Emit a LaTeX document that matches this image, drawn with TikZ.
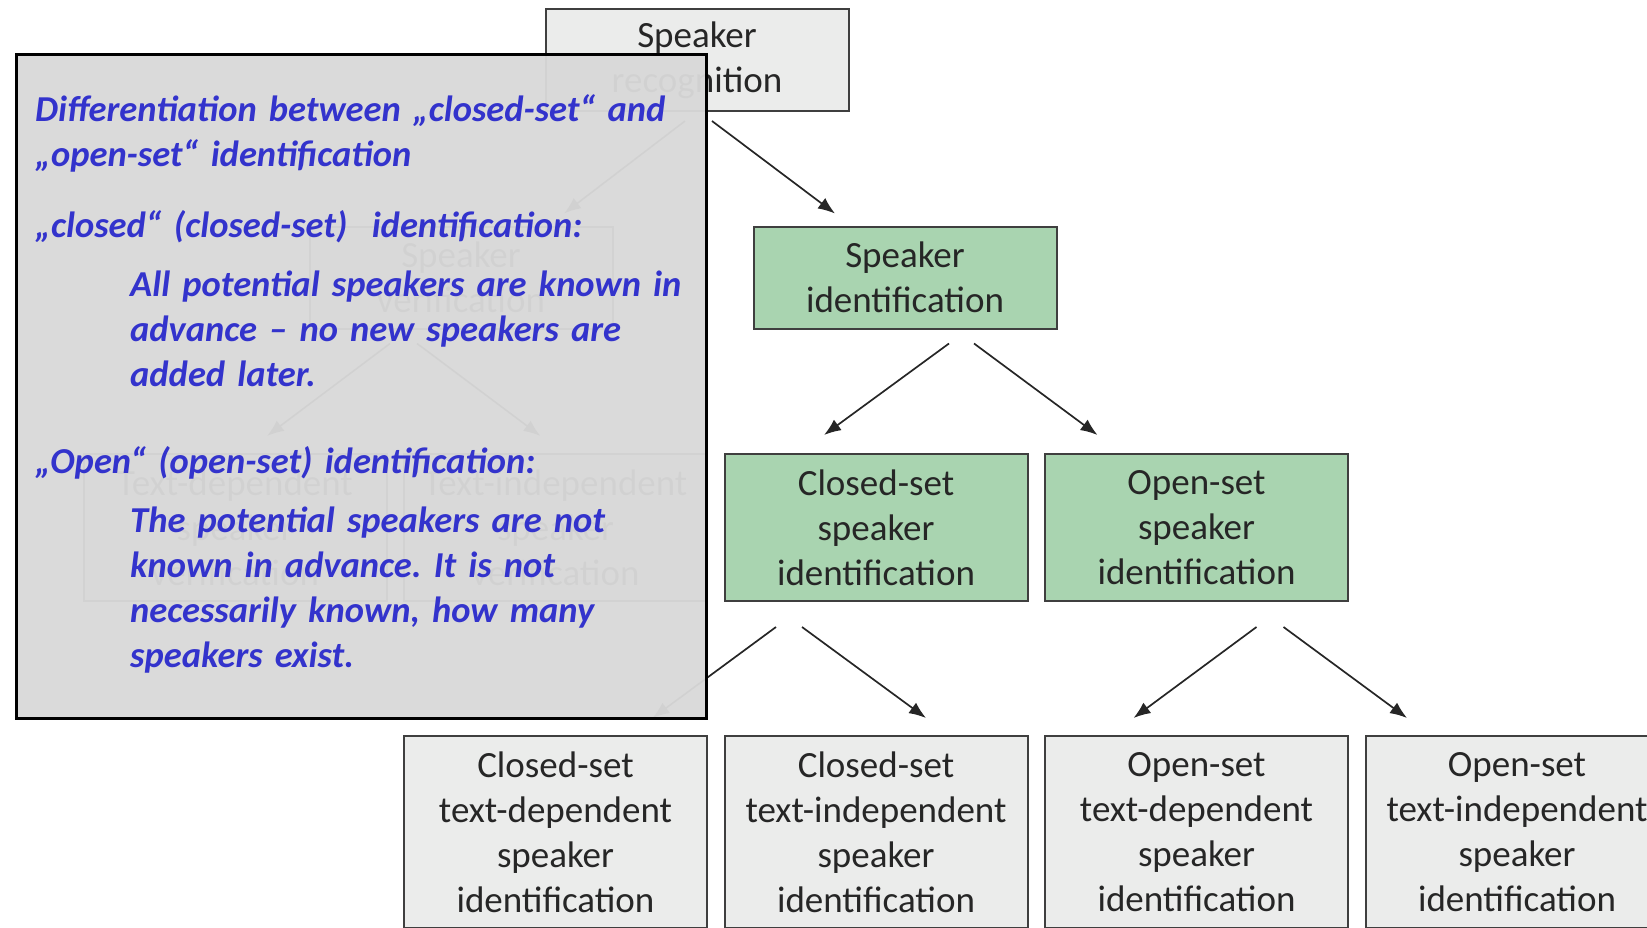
\documentclass[tikz,border=0pt]{standalone}
\usepackage{fontspec}
\setmainfont{Carlito}
\usepackage{xcolor}
\usepackage{tikz}
\usetikzlibrary{arrows.meta,positioning}
\frenchspacing

\definecolor{boxgray}{HTML}{EBECEB}
\definecolor{boxline}{HTML}{3F3F3F}
\definecolor{idgreen}{HTML}{A9D4B0}
\definecolor{notegray}{HTML}{D9D9D9}
\definecolor{noteblue}{HTML}{3333CC}
\definecolor{inkdark}{HTML}{262626}

\tikzset{
  box/.style={draw=boxline, line width=2pt, fill=boxgray, minimum width=303pt, minimum height=102pt,
    align=center, inner sep=0pt, text=inkdark, font=\fontsize{37}{45}\selectfont},
  idbox/.style={box, fill=idgreen},
  tall/.style={minimum height=147pt},
  leaf/.style={minimum height=192pt},
  arr/.style={draw=inkdark, line width=1.7pt, -{Latex[length=17pt,width=13pt]}},
  notetext/.style={anchor=base west, inner sep=0pt, text width=660pt, align=left, text=noteblue,
    font=\fontsize{36.5}{45}\selectfont\bfseries\itshape}
}

\begin{document}
\begin{tikzpicture}[x=1pt, y=-1pt]
\useasboundingbox (0,0) rectangle (1647,927);

\node [box] (rec) at (697,60) {Speaker\\recognition};
\node [box] (ver) at (461,277.5) {Speaker\\verification};
\node [idbox, right=139pt of ver] (ident) {Speaker\\identification};
\node [box, tall] (tdv) at (235,527.5) {Text-dependent\\speaker\\verification};
\node [box, tall, right=15.5pt of tdv] (tiv) {Text-independent\\speaker\\verification};
\node [idbox, tall, right=15.5pt of tiv] (csi) {Closed-set\\speaker\\identification};
\node [idbox, tall, right=15.5pt of csi] (osi) {Open-set\\speaker\\identification};
\node [box, leaf, below=133pt of tiv] (cstd) {Closed-set\\text-dependent\\speaker\\identification};
\node [box, leaf, right=15.5pt of cstd] (csti) {Closed-set\\text-independent\\speaker\\identification};
\node [box, leaf, right=15.5pt of csti] (ostd) {Open-set\\text-dependent\\speaker\\identification};
\node [box, leaf, right=15.5pt of ostd] (osti) {Open-set\\text-independent\\speaker\\identification};

\draw [arr] ([xshift=15pt,yshift=-9pt]rec.south) -- ([xshift=-70pt,yshift=12pt]ident.north);
\draw [arr] ([xshift=-12pt,yshift=-9pt]rec.south) -- ([xshift=103pt,yshift=12pt]ver.north);
\draw [arr] ([xshift=44pt,yshift=-14pt]ident.south) -- ([xshift=-52pt,yshift=18pt]csi.north);
\draw [arr] ([xshift=69pt,yshift=-14pt]ident.south) -- ([xshift=-99pt,yshift=18pt]osi.north);
\draw [arr] ([xshift=-71pt,yshift=-14pt]ver.south) -- ([xshift=32pt,yshift=17pt]tdv.north);
\draw [arr] ([xshift=-44pt,yshift=-14pt]ver.south) -- ([xshift=-15pt,yshift=17pt]tiv.north);
\draw [arr] ([xshift=-100pt,yshift=-25pt]csi.south) -- ([xshift=97pt,yshift=17pt]cstd.north);
\draw [arr] ([xshift=-74pt,yshift=-25pt]csi.south) -- ([xshift=50pt,yshift=17pt]csti.north);
\draw [arr] ([xshift=60pt,yshift=-25pt]osi.south) -- ([xshift=-63pt,yshift=17pt]ostd.north);
\draw [arr] ([xshift=87pt,yshift=-25pt]osi.south) -- ([xshift=-110pt,yshift=17pt]osti.north);

\node [draw=black, line width=2.5pt, fill=notegray, fill opacity=0.96, anchor=north west,
  minimum width=690pt, minimum height=664pt, inner sep=0pt] (note) at (15,53) {};

\node [notetext] (diff) at (35,121) {Differentiation between „closed-set“ and\\„open-set“ identification};
\node [notetext] (closed) at (35,237) {„closed“ (closed-set)\ \ identification:};
\node [notetext] (closedtxt) at (130,296) {All potential speakers are known in\\advance – no new speakers are\\added later.};
\node [notetext] (open) at (35,473) {„Open“ (open-set) identification:};
\node [notetext] (opentxt) at (130,532) {The potential speakers are not\\known in advance. It is not\\necessarily known, how many\\speakers exist.};
\end{tikzpicture}
\end{document}
